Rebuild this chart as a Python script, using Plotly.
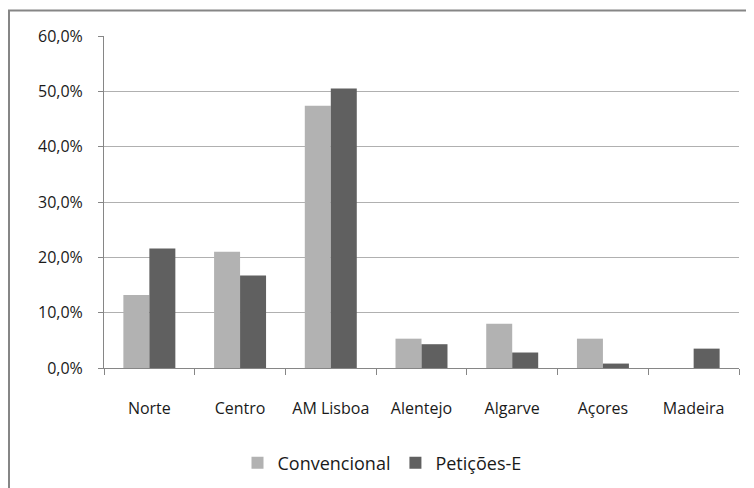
import plotly.graph_objects as go

categories = ["Norte", "Centro", "AM Lisboa", "Alentejo", "Algarve", "Açores", "Madeira"]
convencional = [0.132, 0.210, 0.474, 0.053, 0.080, 0.053, 0.0]
peticoes_e = [0.216, 0.167, 0.505, 0.043, 0.028, 0.008, 0.035]
y_ticks = [0, 0.1, 0.2, 0.3, 0.4, 0.5, 0.6]

OFF = 8  # default page body margin
W, H = 754 - OFF, 488 - OFF
ml, mr, mt, mb = 104 - OFF, 15, 36 - OFF, 120
pw, ph = W - ml - mr, H - mt - mb

def px_x(p):
    return (p - OFF - ml) / pw

def px_y(p):
    return (H - mb - (p - OFF)) / ph

txt = "#1a1a1a"
font = dict(family="Open Sans", size=15, color=txt)

fig = go.Figure()
fig.add_trace(go.Bar(name="Convencional", x=categories, y=convencional,
                     marker=dict(color="#b2b2b2", line=dict(width=0))))
fig.add_trace(go.Bar(name="Petições-E", x=categories, y=peticoes_e,
                     marker=dict(color="#606060", line=dict(width=0))))

fig.update_layout(
    template="none",
    width=W, height=H,
    margin=dict(l=ml, r=mr, t=mt, b=mb, autoexpand=False),
    paper_bgcolor="white", plot_bgcolor="white",
    separators=",.",
    font=font,
    barmode="group", bargap=0.427, bargroupgap=0,
    showlegend=True,
    legend=dict(orientation="h", x=px_x(382), xanchor="center", y=px_y(463), yanchor="middle",
                font=dict(family="Open Sans", size=18, color=txt),
                tracegroupgap=0, itemsizing="constant"),
    xaxis=dict(type="category", automargin=False, showgrid=False, showline=True,
               linecolor="#868686", linewidth=1, tickangle=0,
               ticks="outside", tickson="boundaries", ticklen=6, tickcolor="#868686",
               tickfont=dict(family="Open Sans", size=16, color=txt),
               ticklabelstandoff=26, fixedrange=True),
    yaxis=dict(range=[0, 0.6], automargin=False, tickvals=y_ticks, tickformat=".1%", showgrid=True,
               gridcolor="#b0b0b0", gridwidth=1, showline=True, linecolor="#868686", linewidth=1,
               ticks="outside", ticklen=5, tickcolor="#868686", ticklabelstandoff=12,
               tickfont=dict(family="Open Sans", size=16, color=txt),
               zeroline=False, fixedrange=True),
    shapes=[dict(type="rect", xref="paper", yref="paper",
                 x0=px_x(9), x1=px_x(770), y0=px_y(500), y1=px_y(10.5),
                 line=dict(color="#868686", width=2), fillcolor="rgba(0,0,0,0)", layer="below")],
)

fig.write_html("out.html")
